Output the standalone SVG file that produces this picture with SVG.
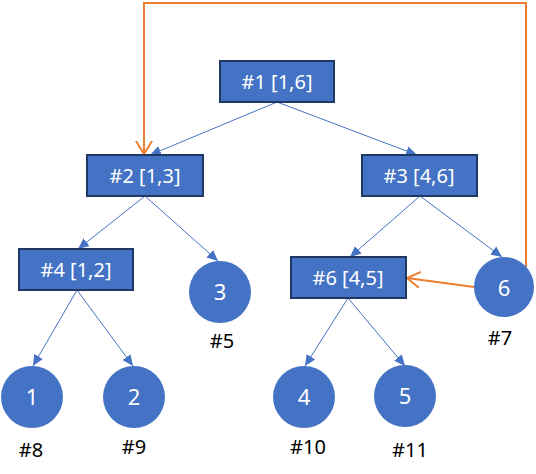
<svg xmlns="http://www.w3.org/2000/svg" width="536" height="474" viewBox="0 0 536 474">
<style>
.box{fill:#4472C4;stroke:#1F3864;stroke-width:2}
.circ{fill:#4472C4}
.t{font-family:"Noto Sans","Open Sans",sans-serif;font-size:20px;fill:#fff;text-anchor:middle}
.c{font-family:"Noto Sans","Open Sans",sans-serif;font-size:22px;fill:#fff;text-anchor:middle}
.lbl{font-family:"Noto Sans","Open Sans",sans-serif;font-size:20px;fill:#000;text-anchor:middle}
.edge{stroke:#4472C4;stroke-width:1;fill:none;marker-end:url(#tri)}
.back{stroke:#ED7D31;stroke-width:2;fill:none;marker-end:url(#vee)}
</style>
<defs>
<marker id="tri" markerUnits="userSpaceOnUse" markerWidth="12" markerHeight="12" viewBox="0 0 12 12" refX="11" refY="6" orient="auto">
<path d="M0,1 L11,6 L0,11 Z" fill="#4472C4"/>
</marker>
<marker id="vee" markerUnits="userSpaceOnUse" markerWidth="16" markerHeight="20" viewBox="0 0 16 20" refX="14" refY="10" orient="auto">
<path d="M1,2 L14,10 L1,18" fill="none" stroke="#ED7D31" stroke-width="2"/>
</marker>
</defs>
<g id="connectors">
<line class="edge" x1="277" y1="102" x2="150" y2="155"/>
<line class="edge" x1="277" y1="102" x2="417" y2="155"/>
<line class="edge" x1="145" y1="196" x2="78" y2="249"/>
<line class="edge" x1="145" y1="196" x2="218" y2="261"/>
<line class="edge" x1="420" y1="196" x2="350" y2="257"/>
<line class="edge" x1="420" y1="196" x2="502" y2="257"/>
<line class="edge" x1="77" y1="290" x2="33" y2="366"/>
<line class="edge" x1="77" y1="290" x2="133" y2="366"/>
<line class="edge" x1="348" y1="298" x2="305" y2="366"/>
<line class="edge" x1="348" y1="298" x2="405" y2="366"/>
<path class="back" d="M526,267 V3 H144 V154"/>
<line class="back" x1="474" y1="287" x2="407" y2="278"/>
</g>
<g id="n1"><rect class="box" x="220" y="61" width="114" height="41"/><text class="t" x="277" y="89">#1 [1,6]</text></g>
<g id="n2"><rect class="box" x="87" y="155" width="116" height="41"/><text class="t" x="145" y="183">#2 [1,3]</text></g>
<g id="n3"><rect class="box" x="362" y="155" width="115" height="41"/><text class="t" x="419" y="183">#3 [4,6]</text></g>
<g id="n4"><rect class="box" x="19" y="249" width="114" height="41"/><text class="t" x="76" y="277">#4 [1,2]</text></g>
<g id="n5"><circle class="circ" cx="220" cy="292" r="31"/><text class="c" x="220" y="300">3</text><text class="lbl" x="222" y="348">#5</text></g>
<g id="n6"><rect class="box" x="291" y="257" width="115" height="41"/><text class="t" x="348" y="285">#6 [4,5]</text></g>
<g id="n7"><circle class="circ" cx="504" cy="287" r="30"/><text class="c" x="504" y="296">6</text><text class="lbl" x="500" y="345">#7</text></g>
<g id="n8"><circle class="circ" cx="32" cy="397" r="31"/><text class="c" x="32" y="405">1</text><text class="lbl" x="31" y="457">#8</text></g>
<g id="n9"><circle class="circ" cx="134" cy="397" r="31"/><text class="c" x="134" y="405">2</text><text class="lbl" x="134" y="454">#9</text></g>
<g id="n10"><circle class="circ" cx="304" cy="397" r="31"/><text class="c" x="304" y="405">4</text><text class="lbl" x="308" y="454">#10</text></g>
<g id="n11"><circle class="circ" cx="405" cy="396" r="31"/><text class="c" x="405" y="404">5</text><text class="lbl" x="410" y="457">#11</text></g>
</svg>
